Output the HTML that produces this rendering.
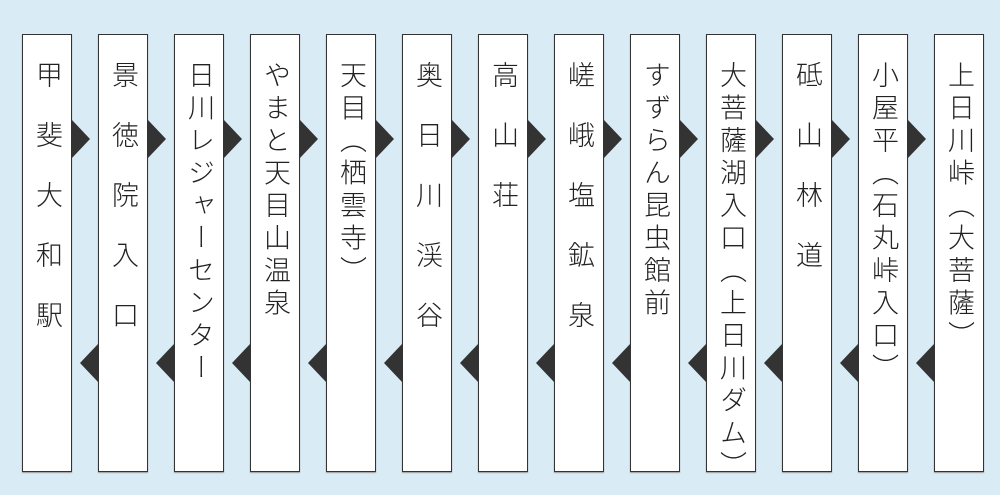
<!DOCTYPE html>
<html><head><meta charset="utf-8"><style>
body{margin:0;width:1000px;height:495px;background:#d9ecf5;position:relative;overflow:hidden;font-family:"Liberation Sans","Noto Sans CJK JP",sans-serif;}
.b{position:absolute;top:34px;width:50px;height:438px;background:#fff;border:1.5px solid #333;box-sizing:border-box;box-shadow:0 1px 1px #999;}
.t{position:absolute;top:26px;left:0;width:48px;writing-mode:vertical-rl;font-size:27px;font-weight:300;line-height:48px;color:#222;letter-spacing:5.5px;white-space:nowrap;}
.w{letter-spacing:33px;}
.r{position:absolute;top:120px;width:0;height:0;border-top:19px solid transparent;border-bottom:19px solid transparent;border-left:18px solid #333;}
.l{position:absolute;top:344px;width:0;height:0;border-top:19px solid transparent;border-bottom:19px solid transparent;border-right:18px solid #333;}
</style></head><body>
<div class="b" style="left:22px"><div class="t w">甲斐大和駅</div></div>
<div class="b" style="left:98px"><div class="t w">景徳院入口</div></div>
<div class="b" style="left:174px"><div class="t">日川レジャーセンター</div></div>
<div class="b" style="left:250px"><div class="t">やまと天目山温泉</div></div>
<div class="b" style="left:326px"><div class="t">天目（栖雲寺）</div></div>
<div class="b" style="left:402px"><div class="t w">奥日川渓谷</div></div>
<div class="b" style="left:478px"><div class="t w">高山荘</div></div>
<div class="b" style="left:554px"><div class="t w">嵯峨塩鉱泉</div></div>
<div class="b" style="left:630px"><div class="t">すずらん昆虫館前</div></div>
<div class="b" style="left:706px"><div class="t">大菩薩湖入口（上日川ダム）</div></div>
<div class="b" style="left:782px"><div class="t w">砥山林道</div></div>
<div class="b" style="left:858px"><div class="t">小屋平（石丸峠入口）</div></div>
<div class="b" style="left:934px"><div class="t">上日川峠（大菩薩）</div></div>
<div class="r" style="left:72px"></div><div class="l" style="left:80px"></div>
<div class="r" style="left:148px"></div><div class="l" style="left:156px"></div>
<div class="r" style="left:224px"></div><div class="l" style="left:232px"></div>
<div class="r" style="left:300px"></div><div class="l" style="left:308px"></div>
<div class="r" style="left:376px"></div><div class="l" style="left:384px"></div>
<div class="r" style="left:452px"></div><div class="l" style="left:460px"></div>
<div class="r" style="left:528px"></div><div class="l" style="left:536px"></div>
<div class="r" style="left:604px"></div><div class="l" style="left:612px"></div>
<div class="r" style="left:680px"></div><div class="l" style="left:688px"></div>
<div class="r" style="left:756px"></div><div class="l" style="left:764px"></div>
<div class="r" style="left:832px"></div><div class="l" style="left:840px"></div>
<div class="r" style="left:908px"></div><div class="l" style="left:916px"></div>
</body></html>
